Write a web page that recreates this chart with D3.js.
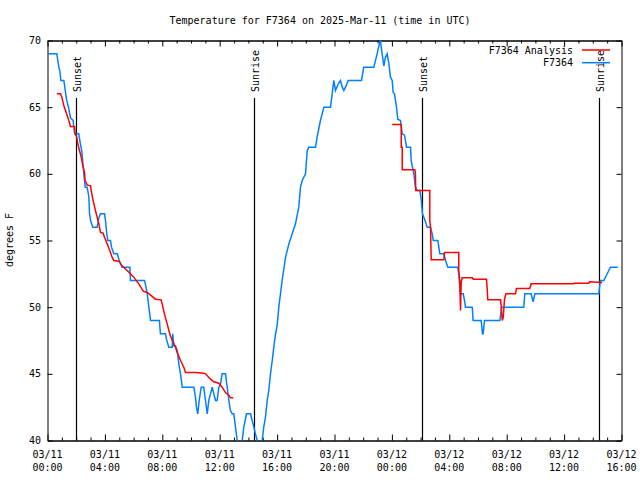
<!DOCTYPE html>
<html><head><meta charset="utf-8">
<script src="https://cdn.jsdelivr.net/npm/d3@7"></script>
<style>body{margin:0;background:#fff}svg{display:block}text{font-family:"DejaVu Sans Mono",monospace;font-size:10px;fill:#000}</style>
</head><body><svg id="c" width="640" height="480"></svg>
<script>
const title = "Temperature for F7364 on 2025-Mar-11 (time in UTC)";
const yLabel = "degrees F";
const xTickHours = [0,4,8,12,16,20,24,28,32,36,40];
const xTickDates = ["03/11","03/11","03/11","03/11","03/11","03/11","03/12","03/12","03/12","03/12","03/12"];
const xTickTimes = ["00:00","04:00","08:00","12:00","16:00","20:00","00:00","04:00","08:00","12:00","16:00"];
const yTicks = [40,45,50,55,60,65,70];
const sunEvents = ["Sunset","Sunrise","Sunset","Sunrise"];
const sunHours = [1.97,14.38,26.09,38.43];
const seriesNames = ["F7364 Analysis","F7364"];
const seriesColors = ["#ff0000","#0080ff"];
// F7364 observations (hours since 03/11 00:00 UTC, degrees F)
const obsHours = [0.07,0.65,0.72,0.79,0.86,0.93,1.14,1.18,1.32,1.46,1.6,1.79,1.83,1.9,2.18,2.25,2.39,2.49,2.56,2.63,2.76,2.88,2.93,3.0,3.16,3.46,3.58,3.69,3.97,4.04,4.13,4.2,4.39,4.46,4.62,4.86,4.97,5.2,5.74,5.78,6.76,6.85,6.95,7.06,7.18,7.8,7.87,8.22,8.29,8.45,8.69,8.73,8.8,8.92,9.04,9.15,9.27,9.39,10.2,10.31,10.38,10.47,10.57,10.71,10.89,11.01,11.13,11.24,11.36,11.48,11.59,11.71,11.82,11.94,12.06,12.17,12.4,12.52,12.64,12.75,12.87,12.98,13.1,13.22,13.33,13.45,13.57,13.68,13.87,14.15,14.26,14.38,14.49,14.61,14.75,14.85,14.96,15.07,15.19,15.31,15.42,15.54,15.66,15.77,15.89,16.0,16.12,16.35,16.59,16.82,17.05,17.28,17.51,17.63,17.75,17.98,18.1,18.21,18.68,18.79,19.02,19.26,19.72,19.84,19.95,20.07,20.26,20.42,20.54,20.65,20.77,20.95,21.88,22.04,22.74,22.97,23.16,23.2,23.32,23.44,23.55,23.67,23.79,23.9,24.02,24.09,24.18,24.32,24.41,24.6,24.72,24.88,25.02,25.3,25.34,25.48,25.53,25.64,25.76,25.95,26.05,26.13,26.34,26.46,26.69,26.81,26.88,27.2,27.27,27.34,27.62,27.74,27.9,28.59,28.66,28.73,28.78,28.97,29.06,29.13,29.6,29.66,30.22,30.27,30.31,30.36,30.45,31.52,31.64,33.19,33.26,33.7,33.84,33.96,38.42,38.47,38.54,38.77,39.23,39.74];
const obsTemps = [69,69,68.5,68,67.7,67,67,66.7,65.6,65,64.2,64,63.5,63,63,62.5,61.7,60.5,59.7,59,59,58.3,57,56.5,56,56,56.7,57,57,56.5,55.5,55,55,54.5,54,54,53.6,53,53,52,52,51.6,51,50,49,49,48,48,47.6,47,47,48,47.1,47.1,46.75,45.75,45,44,44,43.25,42.5,42,43,44,44,43,42,43,43.5,44,43.5,43,43,44,44.25,45,45,44,43,42.25,42,42,41,40,39,39,40,41,42,42,41.5,41,40.5,40,39,39,40,41,41.75,43,43.75,45,46,47,48,48.6,50,52,53.75,54.75,55.5,56.25,57.5,59,59.5,60,61.75,62,62,62.75,64,65,65,66,67,66.25,66.75,67,66.5,66.25,66.5,67,67,68,68,69,69.9,70,69,68.1,68.75,69,68.25,67.25,67,66.1,66,65,64.1,64,63,62.9,62,62,61,60.25,60,59,58.75,58.75,58,57,56.4,56,56,55.5,55,55,54.5,54,54,53.5,53,53,52.5,51.5,51,51,50.5,50,50,49,49,48.5,48,48,49,49,50,50,51,51,50.4,51,51,51.5,52,52,53,53];
// F7364 Analysis (null = gap)
const anaHours = [0.65,0.91,1.0,1.14,1.3,1.46,1.6,1.88,1.93,2.04,2.11,2.23,2.35,2.46,2.58,2.62,2.77,3.0,3.04,3.18,3.34,3.46,3.58,3.69,3.88,3.97,4.16,4.34,4.5,4.62,4.97,5.2,5.55,6.01,6.36,6.67,6.95,7.18,7.53,7.92,7.99,8.15,8.34,8.52,8.69,8.92,9.04,9.27,9.5,9.62,10.31,10.89,11.01,11.36,11.59,11.94,12.17,12.4,12.64,12.75,12.94,null,24.02,24.65,24.65,24.72,24.72,25.6,25.64,25.66,26.64,26.64,26.69,26.74,27.62,27.67,28.66,28.66,28.73,28.78,28.83,28.9,29.6,29.67,30.59,30.64,30.68,31.57,31.62,31.69,31.76,31.85,31.94,32.61,32.68,33.61,33.7,36.63,36.68,37.72,37.77,38.65];
const anaTemps = [66,66,65.75,65.1,64.6,64.1,63.55,63.55,63,62.75,62.25,61.75,61.25,60.6,60.1,59.5,59.15,59.1,58.75,58,57.25,56.75,56.25,55.6,55.55,55.25,54.75,54.25,53.75,53.5,53.45,53.1,52.75,52.25,51.75,51.2,51.1,50.9,50.6,50.55,50.25,49.5,48.75,48,47.5,47,46.6,46,45.5,45.1,45.1,45.05,45,44.6,44.4,44.3,44,43.6,43.4,43.2,43.2,null,63.7,63.7,62,62,60.3,60.3,60,58.75,58.75,56.5,56,53.55,53.55,54.1,54.1,52.75,52,49.75,51.9,52.2,52.2,52.1,52.1,51.4,50.55,50.55,50,49,49.25,50.6,51,51,51.4,51.4,51.75,51.75,51.8,51.8,51.9,51.85];

const L=47.5,R=621.5,T=40.5,B=440.5;
const svg=d3.select("#c");
const x=d3.scaleLinear().domain([0,40]).range([L,R]);
const y=d3.scaleLinear().domain([40,70]).range([B,T]);

svg.append("text").attr("x",320).attr("y",24).attr("text-anchor","middle").text(title);
svg.append("text").attr("transform","translate(13,240) rotate(-90)").attr("text-anchor","middle").text(yLabel);

svg.append("clipPath").attr("id","clip").append("rect").attr("x",L).attr("y",T).attr("width",R-L).attr("height",B-T);

const g=svg.append("g");
// axes: all four sides with inward ticks
const hourTicks=d3.range(0,41);
const mk=(gen,tr)=>g.append("g").attr("transform",tr).call(gen);
const bottomMinor=d3.axisBottom(x).tickValues(hourTicks.filter(h=>h%4)).tickSize(-3).tickFormat("").tickSizeOuter(0);
const bottomMajor=d3.axisBottom(x).tickValues(xTickHours).tickSize(-6).tickFormat("").tickSizeOuter(0);
const topMinor=d3.axisTop(x).tickValues(hourTicks.filter(h=>h%4)).tickSize(-3).tickFormat("").tickSizeOuter(0);
const topMajor=d3.axisTop(x).tickValues(xTickHours).tickSize(-6).tickFormat("").tickSizeOuter(0);
const leftAx=d3.axisLeft(y).tickValues(yTicks).tickSize(-5).tickFormat("").tickSizeOuter(0);
const rightAx=d3.axisRight(y).tickValues(yTicks).tickSize(-5).tickFormat("").tickSizeOuter(0);
[mk(bottomMinor,`translate(0,${B})`),mk(bottomMajor,`translate(0,${B})`),mk(topMinor,`translate(0,${T})`),mk(topMajor,`translate(0,${T})`),mk(leftAx,`translate(${L},0)`),mk(rightAx,`translate(${R},0)`)].forEach(a=>{
  a.selectAll("path").attr("stroke","#000").attr("stroke-width",1);
  a.selectAll("line").attr("stroke","#000").attr("stroke-width",1);
});
// tick labels
const yl=svg.append("g");
yTicks.forEach(v=>yl.append("text").attr("x",41).attr("y",y(v)+3.5).attr("text-anchor","end").text(v));
xTickHours.forEach((h,i)=>{
  svg.append("text").attr("x",x(h)).attr("y",458).attr("text-anchor","middle").text(xTickDates[i]);
  svg.append("text").attr("x",x(h)).attr("y",471).attr("text-anchor","middle").text(xTickTimes[i]);
});

// sun events
sunHours.forEach((h,i)=>{
  const xp=Math.round(x(h))+0.5;
  svg.append("line").attr("x1",xp).attr("x2",xp).attr("y1",98).attr("y2",B).attr("stroke","#000").attr("stroke-width",1.2);
  svg.append("text").attr("transform",`translate(${xp+4},92) rotate(-90)`).attr("text-anchor","start").text(sunEvents[i]);
});

// series
const plot=svg.append("g").attr("clip-path","url(#clip)");
const line=d3.line().defined(d=>d[0]!=null&&d[1]!=null).x(d=>x(d[0])).y(d=>y(d[1]));
const obs=obsHours.map((h,i)=>[h,obsTemps[i]]);
const ana=anaHours.map((h,i)=>[h,anaTemps[i]]);
plot.append("path").datum(obs).attr("d",line).attr("fill","none").attr("stroke",seriesColors[1]).attr("stroke-width",1.5);
plot.append("path").datum(ana).attr("d",line).attr("fill","none").attr("stroke",seriesColors[0]).attr("stroke-width",1.5);

// legend
const leg=svg.append("g");
seriesNames.forEach((n,i)=>{
  const yy=50+i*12.7;
  leg.append("text").attr("x",573).attr("y",yy+3.5).attr("text-anchor","end").text(n);
  leg.append("line").attr("x1",582).attr("x2",610).attr("y1",yy).attr("y2",yy).attr("stroke",seriesColors[i]).attr("stroke-width",1.5);
});
</script></body></html>
